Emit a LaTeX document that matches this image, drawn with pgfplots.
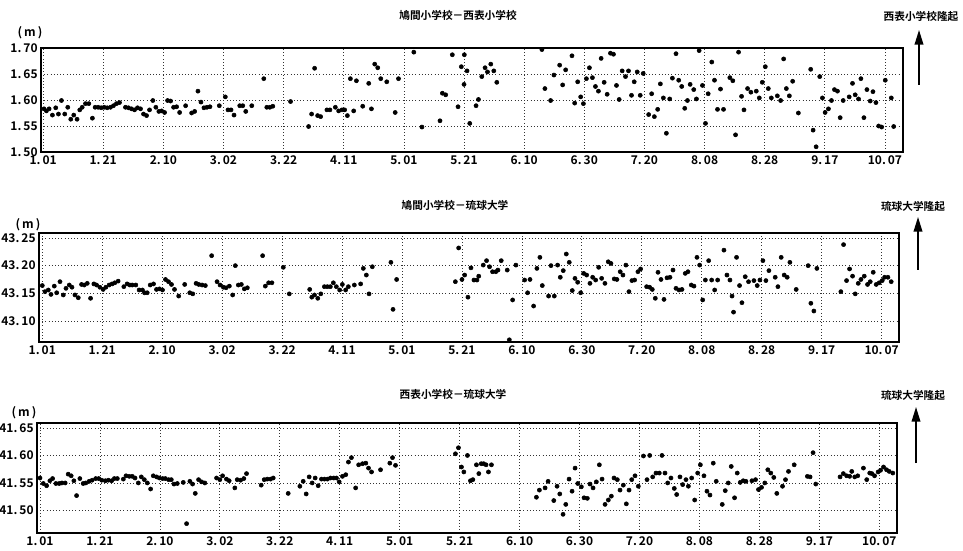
\documentclass[border=0pt]{standalone}
\usepackage{fontspec}
\setmainfont{Noto Sans CJK JP}[BoldFont={* Bold}]
\usepackage{pgfplots}
\pgfplotsset{compat=1.18}
\usetikzlibrary{arrows.meta}
\pgfplotsset{
  panel/.style={
    scale only axis, anchor=south west,
    grid=major,
    major grid style={black!80, dotted, line width=0.6pt},
    axis line style={black, line width=1.1pt},
    major tick length=0pt,
    xtick={0,20,...,280},
    xticklabels={1.\,01,1.\,21,2.\,10,3.\,02,3.\,22,4.\,11,5.\,01,5.\,21,6.\,10,6.\,30,7.\,20,8.\,08,8.\,28,9.\,17,10.\,07},
    ticklabel style={font=\bfseries\fontsize{9}{10}\selectfont, black},
    xticklabel style={yshift=1pt},
    yticklabel style={xshift=1pt},
    clip=false,
  },
  dots/.style={only marks, mark=*, mark size=1.55pt, black},
}
\begin{document}
\begin{tikzpicture}
\useasboundingbox (0,0) rectangle (722.25pt,412.5pt);
% ---------------- panel 1 ----------------
\begin{axis}[panel, at={(30.75pt,298.5pt)}, width=646.5pt, height=78pt,
  xmin=-0.7, xmax=286, ymin=1.50, ymax=1.70,
  ytick={1.50,1.55,1.60,1.65,1.70},
  yticklabels={1.\,50,1.\,55,1.\,60,1.\,65,1.\,70}]
\addplot[dots] coordinates {
(0.3,1.583)(1.1,1.579)(2.0,1.583)(3.1,1.571)(4.2,1.585)(5.1,1.573)(6.1,1.599)(7.2,1.573)(8.2,1.586)(9.2,1.563)(10.2,1.571)(11.3,1.563)(12.2,1.581)(13.0,1.586)(14.1,1.593)(15.2,1.593)(16.4,1.565)(17.3,1.586)(18.3,1.586)(19.3,1.585)(20.3,1.586)(21.3,1.585)(22.4,1.586)(23.4,1.589)(24.4,1.593)(25.4,1.595)(27.4,1.586)(28.4,1.585)(29.4,1.583)(30.4,1.581)(31.4,1.585)(32.4,1.583)(33.4,1.573)(34.4,1.570)(35.4,1.581)(36.5,1.599)(37.5,1.586)(38.5,1.578)(39.4,1.579)(40.4,1.576)(41.4,1.599)(42.4,1.598)(43.4,1.586)(44.4,1.587)(45.4,1.576)(47.4,1.589)(49.4,1.575)(50.4,1.578)(51.5,1.617)(52.5,1.596)(53.5,1.585)(54.5,1.586)(55.5,1.587)(58.6,1.589)(60.6,1.606)(61.5,1.581)(62.5,1.581)(63.5,1.571)(65.4,1.589)(66.4,1.589)(67.4,1.578)(69.4,1.589)(73.4,1.641)(74.4,1.586)(75.4,1.586)(76.4,1.588)(82.3,1.597)(88.3,1.549)(89.3,1.573)(90.3,1.661)(91.3,1.570)(92.3,1.568)(94.4,1.581)(95.4,1.581)(97.2,1.586)(98.3,1.579)(99.4,1.581)(100.3,1.581)(101.2,1.570)(102.2,1.641)(103.3,1.579)(104.2,1.637)(106.3,1.588)(108.3,1.632)(109.2,1.583)(110.3,1.669)(111.3,1.662)(112.3,1.641)(114.3,1.635)(117.1,1.576)(118.2,1.641)(123.3,1.692)(126.0,1.548)(132.0,1.560)(132.8,1.613)(133.9,1.610)(136.1,1.687)(138.0,1.587)(139.1,1.664)(140.0,1.630)(140.1,1.687)(141.0,1.656)(141.9,1.555)(144.0,1.589)
(144.8,1.601)(145.9,1.645)(147.0,1.662)(147.8,1.654)(148.9,1.669)(149.9,1.656)(150.9,1.634)
(165.9,1.697)(166.9,1.622)(168.8,1.599)(169.9,1.648)(171.8,1.667)(172.8,1.629)(173.8,1.658)(175.9,1.685)(176.8,1.594)(177.8,1.635)(178.8,1.606)(179.7,1.593)(180.7,1.641)(181.7,1.662)(182.7,1.643)(183.7,1.626)(184.7,1.617)(185.6,1.680)(186.6,1.634)(187.6,1.611)(188.7,1.690)(189.7,1.688)(190.7,1.628)(191.6,1.601)(192.6,1.656)(193.7,1.645)(194.7,1.656)(195.7,1.609)(196.6,1.635)(197.6,1.654)(198.6,1.609)(199.6,1.651)
(201.4,1.572)(202.4,1.612)(203.3,1.568)(204.4,1.582)(205.3,1.631)(206.3,1.604)(207.3,1.536)(208.4,1.602)(209.3,1.642)(210.5,1.689)(211.4,1.638)(212.4,1.626)(213.4,1.584)(214.3,1.599)(215.2,1.630)(216.4,1.620)(217.3,1.602)(218.2,1.695)(219.3,1.628)(220.3,1.555)(221.2,1.612)(222.4,1.673)(223.3,1.638)(224.3,1.582)(225.3,1.621)(226.3,1.582)(228.4,1.643)(229.4,1.637)(230.3,1.533)(231.3,1.692)(232.3,1.607)(233.1,1.581)(234.3,1.622)(235.4,1.615)(237.2,1.617)(238.2,1.604)(239.2,1.634)(240.2,1.664)(241.2,1.622)(242.2,1.604)(244.2,1.608)(245.3,1.599)(246.3,1.679)(247.2,1.622)(248.2,1.608)(249.3,1.636)(251.2,1.575)(255.3,1.659)(256.1,1.542)(257.1,1.510)(258.3,1.645)(259.2,1.604)(260.1,1.576)(261.2,1.583)(262.2,1.599)(263.2,1.620)(264.2,1.617)(265.1,1.566)(266.1,1.599)(268.1,1.606)(269.2,1.632)(270.1,1.610)(271.2,1.602)(272.0,1.641)(273.0,1.566)(274.0,1.620)(275.1,1.598)(276.0,1.616)(277.0,1.595)(277.9,1.550)(278.9,1.548)(280.1,1.638)(282.1,1.604)(282.9,1.549)
};
\end{axis}
% ---------------- panel 2 ----------------
\begin{axis}[panel, at={(29.25pt,156pt)}, width=645pt, height=81.75pt,
  xmin=-1.1, xmax=285.8, ymin=43.062, ymax=43.259,
  ytick={43.10,43.15,43.20,43.25},
  yticklabels={43.\,10,43.\,15,43.\,20,43.\,25}]
\addplot[dots] coordinates {
(0.0,43.164)(0.9,43.153)(2.0,43.156)(2.9,43.148)(4.0,43.163)(4.8,43.151)(5.9,43.171)(7.0,43.147)(7.9,43.159)(9.0,43.165)(9.9,43.161)(10.9,43.147)(12.0,43.142)(13.1,43.166)(14.0,43.165)(15.0,43.168)(16.1,43.141)(17.2,43.167)(18.1,43.165)(19.2,43.161)(20.3,43.157)(21.2,43.161)(22.3,43.165)(23.3,43.167)(24.2,43.169)(25.3,43.172)(27.2,43.162)(28.3,43.167)(29.2,43.165)(30.0,43.165)(31.2,43.165)(32.3,43.156)(33.4,43.156)(34.1,43.151)(35.0,43.151)(36.0,43.165)(37.1,43.167)(38.1,43.157)(39.1,43.158)(40.1,43.156)(41.1,43.175)(42.1,43.171)(43.1,43.166)(44.1,43.157)(45.5,43.145)(47.5,43.166)(49.2,43.151)(50.2,43.149)(51.3,43.168)(52.2,43.166)(53.3,43.165)(54.4,43.164)(56.5,43.218)(58.3,43.171)(59.3,43.165)(60.4,43.161)(61.3,43.160)(62.4,43.163)(63.5,43.147)(64.4,43.200)(65.4,43.165)(66.4,43.166)(67.4,43.158)(68.4,43.160)(73.5,43.218)(74.4,43.163)(75.5,43.169)(76.6,43.169)(80.4,43.197)(82.4,43.149)(89.2,43.157)(89.9,43.143)(90.8,43.147)(91.9,43.141)(92.9,43.149)(94.1,43.162)(95.1,43.162)(96.1,43.162)(97.1,43.169)(98.1,43.162)(99.2,43.156)(100.1,43.166)(101.2,43.156)(102.1,43.162)(104.1,43.165)(106.2,43.167)(107.1,43.195)(108.1,43.183)(109.0,43.149)(110.1,43.198)(116.3,43.206)(117.0,43.121)(118.2,43.175)(137.8,43.171)(138.9,43.232)(140.0,43.175)(140.9,43.183)(142.0,43.143)(143.0,43.196)(144.0,43.174)(145.0,43.174)
(145.6,43.181)(147.1,43.201)(148.2,43.209)(149.2,43.198)(150.2,43.189)(151.3,43.189)(152.0,43.192)(153.1,43.209)(155.1,43.192)(155.8,43.066)(156.9,43.138)(158.0,43.201)
(160.9,43.174)(161.9,43.151)(162.7,43.175)(163.9,43.127)(165.0,43.195)(166.0,43.215)(166.8,43.164)(168.9,43.145)(169.7,43.200)(170.8,43.145)(171.9,43.201)(172.8,43.179)(173.8,43.191)(174.8,43.221)(175.8,43.206)(176.8,43.155)(177.7,43.177)(178.6,43.170)(179.6,43.151)(180.6,43.186)(181.6,43.183)(182.7,43.168)(183.6,43.179)(184.6,43.174)(185.6,43.197)(186.6,43.177)(187.7,43.168)(188.8,43.207)(189.7,43.204)(190.8,43.176)(191.7,43.175)(192.8,43.189)(193.7,43.183)(194.7,43.201)(195.7,43.153)(196.7,43.173)(197.6,43.174)(198.7,43.189)(199.6,43.194)
(201.6,43.162)(202.6,43.161)(203.5,43.157)(204.5,43.141)(205.4,43.188)(206.4,43.175)(207.4,43.139)(208.4,43.178)(209.4,43.179)(210.4,43.192)(211.4,43.159)(212.4,43.156)(213.4,43.157)(214.5,43.186)(215.4,43.189)(216.5,43.165)(217.4,43.163)(218.4,43.215)(219.3,43.201)(220.3,43.138)(221.2,43.174)(222.3,43.209)(223.3,43.174)(224.3,43.156)(225.3,43.174)(227.4,43.228)(228.4,43.183)(229.4,43.174)(230.1,43.145)(230.6,43.116)(231.6,43.215)(232.6,43.164)(233.4,43.133)(234.5,43.180)(235.6,43.171)(237.4,43.173)(238.5,43.164)(239.4,43.174)(240.4,43.209)(241.4,43.173)(242.4,43.191)(244.5,43.179)(245.4,43.162)(246.5,43.215)(247.5,43.183)(248.5,43.179)(249.4,43.206)(251.5,43.157)(255.5,43.200)(256.4,43.132)(257.4,43.118)(258.4,43.195)(266.4,43.153)(267.3,43.238)(268.3,43.173)(269.3,43.194)(270.3,43.181)(271.2,43.149)(272.2,43.168)(273.1,43.175)(274.2,43.181)(275.3,43.166)(276.2,43.171)(277.2,43.188)(278.2,43.166)(279.2,43.169)(280.2,43.173)(281.0,43.179)(282.1,43.179)(283.2,43.171)
};
\end{axis}
% ---------------- panel 3 ----------------
\begin{axis}[panel, at={(27.75pt,12.75pt)}, width=645pt, height=82.5pt,
  xmin=-1.0, xmax=285.9, ymin=41.459, ymax=41.659,
  ytick={41.50,41.55,41.60,41.65},
  yticklabels={41.\,50,41.\,55,41.\,60,41.\,65}]
\addplot[dots] coordinates {
(0.0,41.559)(1.1,41.549)(2.2,41.545)(3.3,41.554)(4.2,41.558)(5.3,41.549)(6.4,41.549)(7.3,41.550)(8.4,41.550)(9.4,41.566)(10.4,41.563)(11.3,41.554)(12.2,41.527)(13.3,41.558)(14.4,41.549)(15.3,41.550)(16.4,41.553)(17.4,41.555)(18.6,41.558)(19.6,41.558)(20.6,41.555)(21.8,41.554)(22.8,41.555)(23.9,41.554)(24.8,41.558)(25.8,41.558)(27.8,41.557)(28.7,41.563)(29.8,41.562)(30.8,41.562)(31.7,41.559)(32.8,41.550)(33.8,41.561)(34.8,41.556)(35.8,41.550)(36.9,41.539)(37.8,41.563)(38.9,41.561)(39.8,41.559)(40.9,41.558)(41.8,41.558)(42.9,41.556)(43.8,41.556)(44.7,41.548)(45.8,41.549)(47.8,41.551)(48.9,41.476)(50.0,41.553)(50.9,41.548)(51.8,41.531)(52.9,41.556)(53.9,41.552)(55.0,41.550)(58.9,41.559)(60.0,41.556)(60.9,41.563)(62.2,41.557)(63.1,41.554)(65.0,41.541)(65.8,41.556)(66.9,41.555)(68.0,41.558)(68.9,41.567)(73.8,41.546)(74.8,41.556)(75.8,41.557)(76.9,41.557)(77.8,41.559)(82.8,41.531)(86.7,41.544)(87.8,41.553)(88.8,41.530)(89.8,41.561)(90.8,41.550)(91.8,41.559)(92.8,41.545)(93.9,41.557)(94.9,41.557)(95.9,41.557)(96.9,41.559)(98.0,41.559)(98.9,41.559)(99.8,41.552)(100.9,41.562)(102.0,41.565)(102.9,41.588)(103.9,41.596)(105.3,41.541)(106.3,41.583)(107.6,41.585)(108.7,41.586)(109.6,41.577)(110.6,41.570)(113.6,41.574)(116.7,41.586)(117.6,41.596)(118.6,41.582)(138.6,41.603)(139.6,41.614)(140.6,41.579)(141.4,41.570)(142.6,41.600)(143.6,41.554)(144.4,41.556)(145.6,41.583)
(146.4,41.567)(147.2,41.585)(148.0,41.585)(148.8,41.583)(149.6,41.570)(150.6,41.583)
(165.6,41.524)(166.6,41.537)(168.5,41.541)(169.5,41.553)(171.4,41.518)(172.5,41.544)(173.4,41.530)(174.5,41.493)(175.4,41.511)(176.5,41.557)(177.5,41.535)(178.5,41.577)(179.4,41.549)(180.6,41.543)(181.5,41.523)(182.6,41.522)(183.5,41.548)(184.5,41.541)(185.6,41.552)(186.6,41.583)(187.5,41.557)(188.5,41.511)(189.6,41.519)(190.6,41.526)(191.5,41.559)(192.6,41.556)(193.5,41.537)(194.6,41.546)(195.6,41.512)(196.5,41.537)(197.4,41.556)(198.5,41.563)(199.6,41.544)
(201.3,41.599)(202.5,41.556)(203.4,41.600)(204.4,41.561)(205.5,41.568)(206.6,41.568)(207.5,41.600)(208.5,41.568)(209.4,41.550)(210.5,41.559)(211.6,41.540)(212.4,41.529)(213.5,41.561)(214.4,41.547)(215.5,41.556)(216.3,41.544)(217.4,41.559)(218.4,41.519)(219.4,41.568)(220.3,41.583)(221.5,41.563)(222.5,41.535)(223.5,41.528)(224.6,41.586)(225.6,41.553)(227.6,41.511)(228.6,41.536)(229.6,41.550)(230.6,41.580)(231.7,41.523)(232.6,41.568)(233.6,41.551)(234.6,41.554)(235.5,41.553)(237.5,41.554)(238.7,41.556)(239.7,41.538)(240.7,41.542)(241.8,41.550)(242.8,41.574)(243.8,41.568)(244.8,41.560)(245.8,41.531)(247.7,41.544)(248.7,41.556)(249.7,41.571)(251.6,41.583)(256.0,41.562)(256.9,41.561)(257.9,41.605)(258.8,41.548)(266.9,41.561)(268.0,41.567)(269.1,41.563)(270.1,41.562)(270.8,41.571)(271.8,41.561)(272.8,41.563)(274.7,41.577)(275.8,41.556)(276.8,41.568)(277.5,41.567)(278.4,41.563)(279.6,41.570)(280.4,41.573)(281.4,41.579)(282.4,41.574)(283.3,41.571)(284.5,41.568)
};
\end{axis}
% ---------------- titles and annotations ----------------
\begin{scope}[every node/.style={font=\bfseries\fontsize{8}{9}\selectfont, inner sep=0pt}]
\node at (343.5pt,401.25pt) {鳩間小学校－西表小学校};
\node at (341.25pt,258.75pt) {鳩間小学校－琉球大学};
\node at (339.75pt,117pt) {西表小学校－琉球大学};
\node at (690.75pt,400.5pt) {西表小学校隆起};
\node at (684.75pt,258pt) {琉球大学隆起};
\node at (684.75pt,116.25pt) {琉球大学隆起};
\end{scope}
\begin{scope}[every node/.style={font=\bfseries\fontsize{9}{10}\selectfont, inner sep=0pt}]
\node at (22.5pt,387.75pt) {(\,m\,)};
\node at (21pt,243.75pt) {(\,m\,)};
\node at (18pt,102.75pt) {(\,m\,)};
\end{scope}
\draw[line width=1.2pt, -{Triangle[length=11pt, width=6.5pt]}] (689.25pt,348.75pt) -- (689.25pt,390pt);
\draw[line width=1.2pt, -{Triangle[length=11pt, width=6.5pt]}] (688.5pt,210pt) -- (688.5pt,249.75pt);
\draw[line width=1.2pt, -{Triangle[length=11pt, width=6.5pt]}] (687pt,65.25pt) -- (687pt,107.25pt);
\end{tikzpicture}
\end{document}
